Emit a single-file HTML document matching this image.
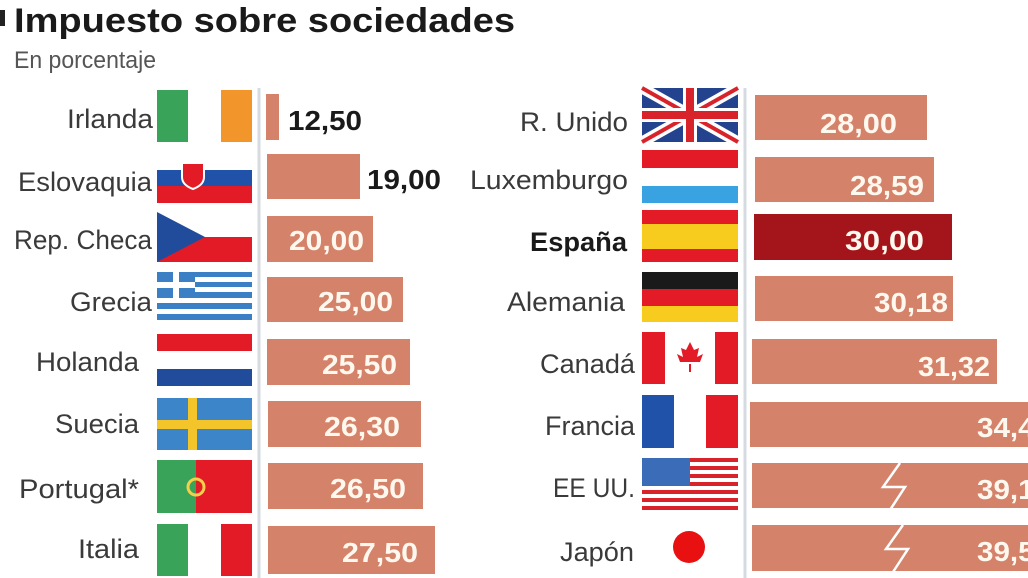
<!DOCTYPE html>
<html><head><meta charset="utf-8"><style>
html,body{margin:0;padding:0;background:#fff;width:1028px;height:578px;overflow:hidden}
svg{display:block}
.lab{font-family:"Liberation Sans",sans-serif;font-size:27px;fill:#3a3a3a}
.val{font-family:"Liberation Sans",sans-serif;font-size:28px;font-weight:bold;fill:#fff8ee}
.valb{font-family:"Liberation Sans",sans-serif;font-size:28px;font-weight:bold;fill:#1a1a1a}
</style></head><body>
<svg width="1028" height="578" viewBox="0 0 1028 578" xmlns="http://www.w3.org/2000/svg">
<rect x="0" y="10" width="5" height="16" fill="#222"/>
<text x="14" y="32" textLength="501" lengthAdjust="spacingAndGlyphs" font-family="Liberation Sans, sans-serif" font-weight="bold" font-size="34" fill="#1a1a1a">Impuesto sobre sociedades</text>
<text x="14" y="68" textLength="142" lengthAdjust="spacingAndGlyphs" font-family="Liberation Sans, sans-serif" font-size="24" fill="#555">En porcentaje</text>
<line x1="259" y1="88" x2="259" y2="578" stroke="#d5dbe0" stroke-width="3"/>
<line x1="745" y1="88" x2="745" y2="578" stroke="#d5dbe0" stroke-width="3"/>
<g fill="#d4826a">
<rect x="266" y="94" width="13" height="46"/>
<rect x="267" y="154" width="93" height="45"/>
<rect x="267" y="216" width="106" height="46"/>
<rect x="267" y="277" width="136" height="45"/>
<rect x="267" y="339" width="143" height="46"/>
<rect x="268" y="401" width="153" height="46"/>
<rect x="268" y="463" width="155" height="46"/>
<rect x="268" y="526" width="167" height="48"/>
<rect x="755" y="95" width="172" height="45"/>
<rect x="755" y="157" width="179" height="45"/>
<rect x="755" y="276" width="198" height="45"/>
<rect x="752" y="339" width="245" height="45"/>
<rect x="750" y="402" width="278" height="45"/>
<rect x="752" y="463" width="276" height="45"/>
<rect x="752" y="525" width="276" height="46"/>
</g>
<rect x="754" y="214" width="198" height="46" fill="#a3151a"/>
<polyline points="900,463 883,487 905,487 890,510" fill="none" stroke="#fff" stroke-width="2.5"/>
<polyline points="903,525 886,549 908,549 893,572" fill="none" stroke="#fff" stroke-width="2.5"/>
<g class="lab" lengthAdjust="spacingAndGlyphs">
<text x="67" y="128" textLength="86" lengthAdjust="spacingAndGlyphs">Irlanda</text>
<text x="18" y="191" textLength="134" lengthAdjust="spacingAndGlyphs">Eslovaquia</text>
<text x="14" y="249" textLength="138" lengthAdjust="spacingAndGlyphs">Rep. Checa</text>
<text x="70" y="311" textLength="82" lengthAdjust="spacingAndGlyphs">Grecia</text>
<text x="36" y="371" textLength="103" lengthAdjust="spacingAndGlyphs">Holanda</text>
<text x="55" y="433" textLength="84" lengthAdjust="spacingAndGlyphs">Suecia</text>
<text x="19" y="498" textLength="120" lengthAdjust="spacingAndGlyphs">Portugal*</text>
<text x="78" y="558" textLength="61" lengthAdjust="spacingAndGlyphs">Italia</text>
<text x="520" y="131" textLength="108" lengthAdjust="spacingAndGlyphs">R. Unido</text>
<text x="470" y="189" textLength="158" lengthAdjust="spacingAndGlyphs">Luxemburgo</text>
<text x="507" y="311" textLength="118" lengthAdjust="spacingAndGlyphs">Alemania</text>
<text x="540" y="373" textLength="95" lengthAdjust="spacingAndGlyphs">Canadá</text>
<text x="545" y="435" textLength="90" lengthAdjust="spacingAndGlyphs">Francia</text>
<text x="553" y="497" textLength="82" lengthAdjust="spacingAndGlyphs">EE UU.</text>
<text x="560" y="561" textLength="74" lengthAdjust="spacingAndGlyphs">Japón</text>
</g>
<text x="530" y="251" textLength="97" lengthAdjust="spacingAndGlyphs" font-family="Liberation Sans, sans-serif" font-weight="bold" font-size="27" fill="#1a1a1a">España</text>
<text x="288" y="130" textLength="74" lengthAdjust="spacingAndGlyphs" class="valb">12,50</text>
<text x="367" y="189" textLength="74" lengthAdjust="spacingAndGlyphs" class="valb">19,00</text>
<g class="val">
<text x="289" y="250" textLength="75" lengthAdjust="spacingAndGlyphs">20,00</text>
<text x="318" y="311" textLength="75" lengthAdjust="spacingAndGlyphs">25,00</text>
<text x="322" y="374" textLength="75" lengthAdjust="spacingAndGlyphs">25,50</text>
<text x="324" y="436" textLength="76" lengthAdjust="spacingAndGlyphs">26,30</text>
<text x="330" y="498" textLength="76" lengthAdjust="spacingAndGlyphs">26,50</text>
<text x="342" y="562" textLength="76" lengthAdjust="spacingAndGlyphs">27,50</text>
<text x="820" y="133" textLength="77" lengthAdjust="spacingAndGlyphs">28,00</text>
<text x="850" y="195" textLength="74" lengthAdjust="spacingAndGlyphs">28,59</text>
<text x="845" y="250" textLength="79" lengthAdjust="spacingAndGlyphs">30,00</text>
<text x="874" y="312" textLength="74" lengthAdjust="spacingAndGlyphs">30,18</text>
<text x="918" y="376" textLength="72" lengthAdjust="spacingAndGlyphs">31,32</text>
<text x="977" y="437" textLength="74" lengthAdjust="spacingAndGlyphs">34,43</text>
<text x="977" y="499" textLength="74" lengthAdjust="spacingAndGlyphs">39,10</text>
<text x="977" y="561" textLength="74" lengthAdjust="spacingAndGlyphs">39,54</text>
</g>
<g>
<rect x="157" y="90" width="95" height="52" fill="#fff"/><rect x="157" y="90" width="31" height="52" fill="#3aa35a"/><rect x="221" y="90" width="31" height="52" fill="#f2952b"/>
<rect x="157" y="160" width="95" height="15" fill="#fff"/><rect x="157" y="170" width="95" height="16" fill="#1f52a8"/><rect x="157" y="186" width="95" height="17" fill="#e21b26"/>
<path d="M182,163 h22 v14 q0,8 -11,12 q-11,-4 -11,-12z" fill="#e21b26" stroke="#fff" stroke-width="2"/>
<rect x="157" y="212" width="95" height="25" fill="#fff"/><rect x="157" y="237" width="95" height="25" fill="#e21b26"/><polygon points="157,212 205,237 157,262" fill="#214c9c"/>
<rect x="157" y="272" width="95" height="48" fill="#3b7fc4"/>
<g fill="#fff"><rect x="157" y="277" width="95" height="5"/><rect x="157" y="287" width="95" height="5"/><rect x="157" y="298" width="95" height="5"/><rect x="157" y="309" width="95" height="5"/></g>
<rect x="157" y="272" width="38" height="26" fill="#3b7fc4"/><rect x="157" y="282" width="38" height="6" fill="#fff"/><rect x="173" y="272" width="6" height="26" fill="#fff"/>
<rect x="157" y="334" width="95" height="17" fill="#e21b26"/><rect x="157" y="351" width="95" height="18" fill="#fff"/><rect x="157" y="369" width="95" height="17" fill="#214c9c"/>
<rect x="157" y="398" width="95" height="52" fill="#3b85c8"/><rect x="157" y="420" width="95" height="9" fill="#f3c52a"/><rect x="188" y="398" width="9" height="52" fill="#f3c52a"/>
<rect x="157" y="460" width="95" height="53" fill="#e21b26"/><rect x="157" y="460" width="39" height="53" fill="#3aa35a"/><circle cx="196" cy="487" r="8" fill="none" stroke="#f3d04a" stroke-width="3"/>
<rect x="157" y="524" width="95" height="52" fill="#fff"/><rect x="157" y="524" width="31" height="52" fill="#3aa35a"/><rect x="221" y="524" width="31" height="52" fill="#e21b26"/>
</g>
<g>
<rect x="642" y="88" width="96" height="54" fill="#24438f"/>
<path d="M642,88 L738,142 M738,88 L642,142" stroke="#fff" stroke-width="11"/>
<path d="M642,88 L738,142 M738,88 L642,142" stroke="#d8232a" stroke-width="4"/>
<rect x="642" y="108" width="96" height="14" fill="#fff"/><rect x="683" y="88" width="14" height="54" fill="#fff"/>
<rect x="642" y="111" width="96" height="8" fill="#d8232a"/><rect x="686" y="88" width="8" height="54" fill="#d8232a"/>
<rect x="642" y="150" width="96" height="18" fill="#e21b26"/><rect x="642" y="168" width="96" height="18" fill="#fff"/><rect x="642" y="186" width="96" height="17" fill="#38a3e0"/>
<rect x="642" y="210" width="96" height="52" fill="#e21b26"/><rect x="642" y="224" width="96" height="25" fill="#f7cc1e"/>
<rect x="642" y="272" width="96" height="17" fill="#1a1a1a"/><rect x="642" y="289" width="96" height="17" fill="#e21b26"/><rect x="642" y="306" width="96" height="16" fill="#f7cc1e"/>
<rect x="642" y="332" width="96" height="52" fill="#fff"/><rect x="642" y="332" width="23" height="52" fill="#e21b26"/><rect x="715" y="332" width="23" height="52" fill="#e21b26"/>
<path d="M690,342 l4,8 5,-2 -2,9 6,-3 -3,8 -10,0 -10,0 -3,-8 6,3 -2,-9 5,2z" fill="#e21b26"/><rect x="689" y="364" width="2" height="8" fill="#e21b26"/>
<rect x="642" y="395" width="96" height="53" fill="#fff"/><rect x="642" y="395" width="32" height="53" fill="#1f52a8"/><rect x="706" y="395" width="32" height="53" fill="#e21b26"/>
<rect x="642" y="458" width="96" height="54" fill="#fff"/>
<g fill="#d8232a"><rect x="642" y="458" width="96" height="4"/><rect x="642" y="466" width="96" height="4"/><rect x="642" y="474" width="96" height="4"/><rect x="642" y="482" width="96" height="4"/><rect x="642" y="490" width="96" height="4"/><rect x="642" y="498" width="96" height="4"/><rect x="642" y="506" width="96" height="4"/></g>
<rect x="642" y="458" width="48" height="28" fill="#3a6cb8"/>
<rect x="642" y="520" width="96" height="56" fill="#fff"/><circle cx="689" cy="547" r="16" fill="#e81010"/>
</g>
</svg>
</body></html>
